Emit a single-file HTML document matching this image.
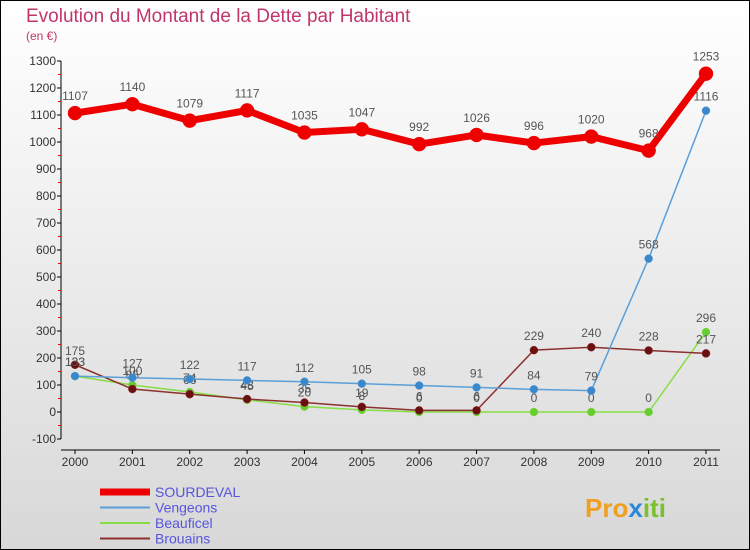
<!DOCTYPE html>
<html><head><meta charset="utf-8"><style>
body{margin:0;width:750px;height:550px;overflow:hidden;font-family:"Liberation Sans",sans-serif}
svg{display:block}
</style></head><body>
<svg width="750" height="550">
<defs><linearGradient id="bg" x1="0" y1="0" x2="0" y2="1"><stop offset="0" stop-color="#ffffff"/><stop offset="1" stop-color="#d8d8d8"/></linearGradient></defs>
<rect x="0.5" y="0.5" width="749" height="549" fill="url(#bg)" stroke="#000"/>
<text x="26" y="22" font-size="19" fill="#c0356a">Evolution du Montant de la Dette par Habitant</text>
<text x="26" y="40" font-size="12" fill="#c0356a">(en €)</text>
<g id="axes"></g>
<g id="series"></g>
<g id="legend"></g>
<text x="585" y="517" font-size="26" font-weight="bold"><tspan fill="#f0a020">Pro</tspan><tspan fill="#2a8ad8">x</tspan><tspan fill="#7cc030">iti</tspan></text>
</svg>
<script>
const years=[2000,2001,2002,2003,2004,2005,2006,2007,2008,2009,2010,2011];
const sourdeval=[1107,1140,1079,1117,1035,1047,992,1026,996,1020,968,1253];
const vengeons=[133,127,122,117,112,105,98,91,84,79,568,1116];
const beauficel=[133,100,74,45,20,8,0,0,0,0,0,296];
const brouains=[175,85,66,48,35,19,6,6,229,240,228,217];
const yTicks=[-100,0,100,200,300,400,500,600,700,800,900,1000,1100,1200,1300];
const NS="http://www.w3.org/2000/svg";
const X=i=>75+i*(706-75)/11;
const Y=v=>412-v*351/1300;
function mk(t,a,p){const e=document.createElementNS(NS,t);for(const k in a)e.setAttribute(k,a[k]);p.appendChild(e);return e;}
const ax=document.getElementById('axes');
const yl=mk('line',{x1:61,y1:Y(1300),x2:61,y2:Y(-100),stroke:'#000'},ax);


yTicks.forEach(v=>{
 mk('line',{x1:57,y1:Y(v),x2:61,y2:Y(v),stroke:'#000'},ax);
 if(v<1300) mk('line',{x1:58,y1:Y(v+50),x2:61,y2:Y(v+50),stroke:'#e00'},ax);
 const t=mk('text',{x:56,y:Y(v)+4,'font-size':12,fill:'#333','text-anchor':'end'},ax);t.textContent=v;
 
 
});
const xl=mk('line',{x1:61,y1:450,x2:720,y2:450,stroke:'#000'},ax);


years.forEach((y,i)=>{
 mk('line',{x1:X(i),y1:450,x2:X(i),y2:454,stroke:'#000'},ax);
 const t=mk('text',{x:X(i),y:466,'font-size':12,fill:'#333','text-anchor':'middle'},ax);t.textContent=y;
 
 
});
const sg=document.getElementById('series');
function draw(data,color,w,r,name,dot){
 const g=mk('g',{},sg);
 
 
 mk('polyline',{points:data.map((v,i)=>X(i)+','+Y(v)).join(' '),fill:'none',stroke:color,'stroke-width':w,'stroke-linejoin':'round'},g);
 data.forEach((v,i)=>{
  const c=mk('circle',{cx:X(i),cy:Y(v),r:r,fill:dot,stroke:color,'stroke-width':0.5},g);
  
  
  const t=mk('text',{x:X(i),y:Y(v)-(r+6),'font-size':12,fill:'#555','text-anchor':'middle'},g);t.textContent=v;
  
  
 });
}
draw(beauficel,'#88dd44',1.5,4,'beauficel','#66cc33');
draw(brouains,'#8b3030',1.5,4,'brouains','#6b1010');
draw(vengeons,'#5a9fd8',1.5,4,'vengeons','#3a88cc');
draw(sourdeval,'#ee0000',7,7,'sourdeval','#ee0000');
const lg=document.getElementById('legend');
[['SOURDEVAL','#ee0000',7],['Vengeons','#5a9fd8',2],['Beauficel','#88dd44',2],['Brouains','#8b3030',2]].forEach((s,i)=>{
 const y=492+i*15.5;
 const g=mk('g',{},lg);
 
 
 mk('line',{x1:100,y1:y,x2:150,y2:y,stroke:s[1],'stroke-width':s[2]},g);
 const t=mk('text',{x:155,y:y+5,'font-size':14,fill:'#5555dd'},g);t.textContent=s[0];
});
</script>
</body></html>
